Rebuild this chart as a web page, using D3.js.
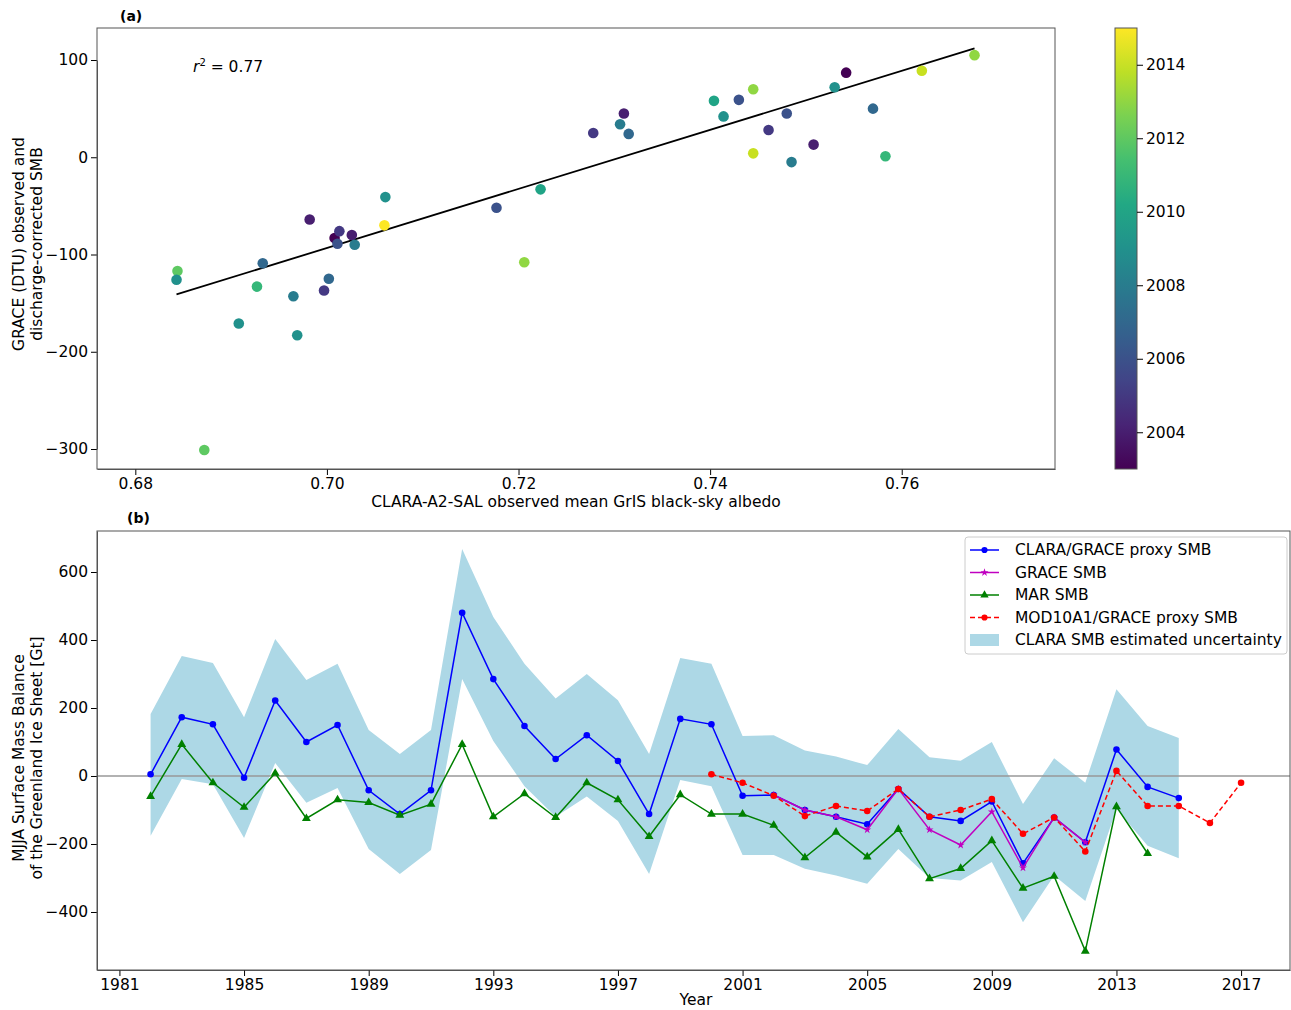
<!DOCTYPE html>
<html><head><meta charset="utf-8">
<script src="https://cdn.jsdelivr.net/npm/d3@7"></script>
<style>body{margin:0;background:#fff}svg{font-family:"DejaVu Sans",sans-serif}</style>
</head><body><svg id="c" width="1291" height="1010"></svg>
<script>
'use strict';
// panel (a) scatter: albedo, SMB, year
var albedo = [0.6844,0.6843,0.6872,0.6908,0.6927,0.6933,0.6965,0.6969,0.6982,0.6997,0.7002,0.7008,0.7011,0.7013,0.7026,0.7029,0.7061,0.7060,0.7177,0.7223,0.7206,
  0.7278,0.7310,0.7306,0.7315,0.7404,0.7414,0.7430,0.7445,0.7445,0.7461,0.7480,0.7485,0.7508,0.7530,0.7542,0.7570,0.7583,0.7621,0.7676];
var smbObs = [-117,-126,-301,-171,-133,-109,-143,-183,-64,-137,-125,-83,-89,-76,-80,-90,-41,-70,-52,-33,-108,
  25,45,34,24,58,42,59,70,4,28,45,-5,13,72,87,50,1,89,105];
var obsYear = [2012,2009,2012,2009,2011,2007,2008,2009,2004,2005,2007,2003,2006,2005,2004,2008,2009,2015,2006,2010,2013,
  2005,2004,2008,2007,2010,2009,2006,2013,2014,2005,2006,2008,2004,2009,2003,2007,2011,2014,2013];
// fitted line end points as drawn in the figure
var fitAlbedo = [0.6843, 0.7676];
var fitSmb = [-141, 112];

// panel (b) time series
var claraYears = d3.range(1982, 2016);
var claraSmb = [5,173,152,-5,222,100,150,-42,-112,-42,480,285,147,50,120,44,-112,168,152,-58,-56,-100,-120,-142,-38,-120,-132,-75,-257,-122,-195,78,-32,-65];
var uncUpper = [182,353,332,173,403,282,330,135,65,135,668,468,330,228,300,223,65,347,330,118,120,75,57,32,138,55,45,100,-82,52,-20,255,147,112];
var uncLower = [-176,-9,-24,-182,38,-79,-35,-215,-288,-218,285,103,-30,-120,-60,-132,-288,-12,-30,-232,-232,-273,-293,-317,-215,-300,-307,-253,-430,-293,-368,-97,-205,-242];
var graceYears = d3.range(2002, 2013);
var graceSmb = [-56,-100,-120,-158,-38,-158,-203,-105,-270,-122,-195];
var marYears = d3.range(1982, 2015);
var marSmb = [-60,93,-20,-92,8,-125,-70,-78,-115,-83,93,-120,-52,-122,-20,-70,-178,-55,-112,-112,-145,-240,-165,-238,-157,-302,-272,-190,-330,-295,-515,-90,-228];
var modYears = d3.range(2000, 2018);
var modSmb = [5,-20,-58,-118,-88,-103,-38,-120,-100,-68,-170,-122,-222,15,-88,-88,-138,-20];
var yearTicks = d3.range(1981, 2018, 4);

var FS = 15.5;
var svg = d3.select('#c');
function minus(d){return d < 0 ? '\u2212' + (-d) : d;}

// ---------- panel (a)
var xa = d3.scaleLinear().domain([0.676, 0.776]).range([97, 1055]);
var ya = d3.scaleLinear().domain([-300, 100]).range([449, 60]);
var col = d3.scaleSequential(d3.interpolateViridis).domain([2003, 2015]);

var ga = svg.append('g');
ga.append('g').attr('transform', 'translate(0,469)')
  .call(d3.axisBottom(xa).tickValues([0.68,0.70,0.72,0.74,0.76]).tickFormat(d3.format('.2f')).tickSizeOuter(0));
ga.append('g').attr('transform', 'translate(97,0)')
  .call(d3.axisLeft(ya).tickValues([-300,-200,-100,0,100]).tickFormat(minus).tickSizeOuter(0));
ga.append('rect').attr('x', 97).attr('y', 28).attr('width', 958).attr('height', 441)
  .attr('fill', 'none').attr('stroke', '#555');

ga.append('line').attr('x1', xa(fitAlbedo[0])).attr('y1', ya(fitSmb[0]))
  .attr('x2', xa(fitAlbedo[1])).attr('y2', ya(fitSmb[1]))
  .attr('stroke', '#000').attr('stroke-width', 1.8);

ga.selectAll('circle.p').data(albedo).enter().append('circle')
  .attr('cx', function(d){return xa(d);})
  .attr('cy', function(d, i){return ya(smbObs[i]);})
  .attr('r', 5.3).attr('fill', function(d, i){return col(obsYear[i]);});

var r2 = ga.append('text').attr('x', 193).attr('y', 72).attr('font-size', FS);
r2.append('tspan').attr('font-style', 'italic').text('r');
r2.append('tspan').attr('dy', -6).attr('font-size', 10).text('2');
r2.append('tspan').attr('dy', 6).text(' = 0.77');

ga.append('text').attr('x', 120).attr('y', 21).attr('font-weight', 'bold').attr('font-size', 14).text('(a)');
ga.append('text').attr('x', 576).attr('y', 507).attr('text-anchor', 'middle').attr('font-size', FS)
  .text('CLARA-A2-SAL observed mean GrIS black-sky albedo');
var yl = ga.append('text').attr('transform', 'translate(24,244) rotate(-90)').attr('text-anchor', 'middle').attr('font-size', FS);
yl.append('tspan').attr('x', 0).attr('dy', 0).text('GRACE (DTU) observed and');
yl.append('tspan').attr('x', 0).attr('dy', 18).text('discharge-corrected SMB');

// colorbar
var cb = d3.scaleLinear().domain([2003, 2015]).range([469, 28]);
var grad = svg.append('defs').append('linearGradient').attr('id', 'vir')
  .attr('x1', 0).attr('y1', 1).attr('x2', 0).attr('y2', 0);
d3.range(0, 1.01, 0.1).forEach(function(t){
  grad.append('stop').attr('offset', t).attr('stop-color', d3.interpolateViridis(t));
});
svg.append('rect').attr('x', 1115).attr('y', 28).attr('width', 22).attr('height', 441)
  .attr('fill', 'url(#vir)').attr('stroke', '#555');
svg.append('g').attr('transform', 'translate(1137,0)')
  .call(d3.axisRight(cb).tickValues([2004,2006,2008,2010,2012,2014]).tickFormat(d3.format('d')).tickSizeOuter(0))
  .select('.domain').remove();

// ---------- panel (b)
var xb = d3.scaleLinear().domain([1980.28, 2018.57]).range([97, 1290]);
var yb = d3.scaleLinear().domain([-570.6, 720.6]).range([970, 531]);
var gb = svg.append('g');

gb.append('path').datum(claraYears)
  .attr('d', d3.area().x(function(d){return xb(d);})
    .y0(function(d, i){return yb(uncLower[i]);}).y1(function(d, i){return yb(uncUpper[i]);}))
  .attr('fill', '#add8e6');
gb.append('line').attr('x1', 97).attr('x2', 1290).attr('y1', yb(0)).attr('y2', yb(0))
  .attr('stroke', '#999').attr('stroke-width', 1.5);

function series(years, vals, color, marker, dash){
  var g = gb.append('g');
  g.append('path').datum(years)
    .attr('d', d3.line().x(function(d){return xb(d);}).y(function(d, i){return yb(vals[i]);}))
    .attr('fill', 'none').attr('stroke', color).attr('stroke-width', 1.5)
    .attr('stroke-dasharray', dash || null);
  g.selectAll('path.m').data(years).enter().append('path').attr('class', 'm')
    .attr('transform', function(d, i){return 'translate(' + xb(d) + ',' + yb(vals[i]) + ')';})
    .attr('d', d3.symbol().type(marker).size(marker === d3.symbolStar ? 20 : 34))
    .attr('fill', color);
}
series(claraYears, claraSmb, 'blue', d3.symbolCircle);
series(graceYears, graceSmb, '#c000c0', d3.symbolStar);
series(marYears, marSmb, 'green', d3.symbolTriangle);
series(modYears, modSmb, 'red', d3.symbolCircle, '5,3');

gb.append('g').attr('transform', 'translate(0,970)')
  .call(d3.axisBottom(xb).tickValues(yearTicks).tickFormat(d3.format('d')).tickSizeOuter(0));
gb.append('g').attr('transform', 'translate(97,0)')
  .call(d3.axisLeft(yb).tickValues([-400,-200,0,200,400,600]).tickFormat(minus).tickSizeOuter(0));
gb.append('rect').attr('x', 97).attr('y', 531).attr('width', 1193).attr('height', 439)
  .attr('fill', 'none').attr('stroke', '#555');

gb.append('text').attr('x', 127).attr('y', 523).attr('font-weight', 'bold').attr('font-size', 14).text('(b)');
gb.append('text').attr('x', 696).attr('y', 1005).attr('text-anchor', 'middle').attr('font-size', FS).text('Year');
var yl2 = gb.append('text').attr('transform', 'translate(24,758) rotate(-90)').attr('text-anchor', 'middle').attr('font-size', FS);
yl2.append('tspan').attr('x', 0).attr('dy', 0).text('MJJA Surface Mass Balance');
yl2.append('tspan').attr('x', 0).attr('dy', 18).text('of the Greenland Ice Sheet [Gt]');

// legend
var leg = gb.append('g').attr('transform', 'translate(965,537)');
leg.append('rect').attr('width', 322).attr('height', 117).attr('rx', 3).attr('fill', '#fff').attr('stroke', '#ccc');
var legItems = [
  {t: 'CLARA/GRACE proxy SMB', c: 'blue', m: d3.symbolCircle},
  {t: 'GRACE SMB', c: '#c000c0', m: d3.symbolStar},
  {t: 'MAR SMB', c: 'green', m: d3.symbolTriangle},
  {t: 'MOD10A1/GRACE proxy SMB', c: 'red', m: d3.symbolCircle, d: '5,3'},
  {t: 'CLARA SMB estimated uncertainty', c: '#add8e6', f: true}
];
legItems.forEach(function(it, i){
  var y = 13 + i * 22.5;
  if (it.f) {
    leg.append('rect').attr('x', 5).attr('y', y - 6).attr('width', 29).attr('height', 12).attr('fill', it.c);
  } else {
    leg.append('line').attr('x1', 5).attr('x2', 34).attr('y1', y).attr('y2', y)
      .attr('stroke', it.c).attr('stroke-width', 1.5).attr('stroke-dasharray', it.d || null);
    leg.append('path').attr('transform', 'translate(19.5,' + y + ')')
      .attr('d', d3.symbol().type(it.m).size(it.m === d3.symbolStar ? 20 : 30)).attr('fill', it.c);
  }
  leg.append('text').attr('x', 50).attr('y', y + 5).attr('font-size', FS).text(it.t);
});

svg.selectAll('.tick text').attr('font-size', FS).attr('fill', '#000').attr('font-family', '"DejaVu Sans",sans-serif');
svg.selectAll('.domain').attr('stroke', '#555');
</script></body></html>
